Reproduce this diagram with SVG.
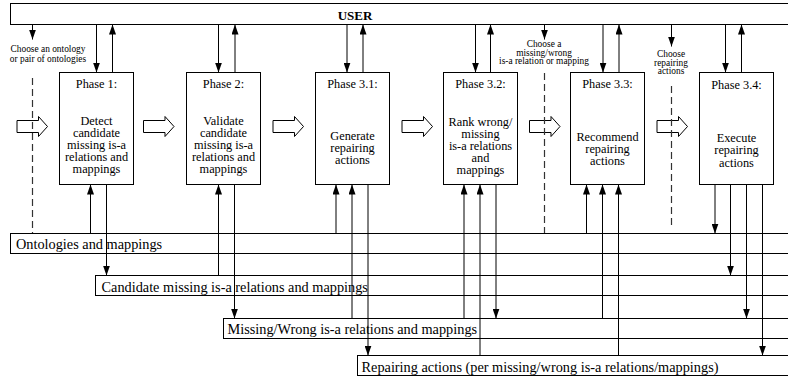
<svg xmlns="http://www.w3.org/2000/svg" width="788" height="381" viewBox="0 0 788 381">
<style>
  .ln{stroke:#000;stroke-width:1;fill:none}
  .box{stroke:#000;stroke-width:1;fill:#fff}
  .bar{stroke:#000;stroke-width:1;fill:none}
  .dash{stroke:#333;stroke-width:1.2;fill:none;stroke-dasharray:7,4}
  .blk{stroke:#000;stroke-width:1;fill:#fff}
  text{font-family:"Liberation Serif","Times New Roman",serif;fill:#000}
  .t{font-size:12.3px;text-anchor:middle}
  .bt{font-size:14.3px}
  .sm{font-size:9.4px;text-anchor:middle}
  .user{font-size:13px;font-weight:bold;text-anchor:middle}
</style>
<defs>
  <marker id="ah" markerUnits="userSpaceOnUse" markerWidth="10" markerHeight="7" refX="10" refY="3.5" orient="auto">
    <path d="M0,0 L10,3.5 L0,7 Z" fill="#000"/>
  </marker>
  <path id="blk" d="M0.5,4 H22 V0 L31,10 L22,20 V16 H0.5 Z"/>
</defs>

<g id="user">
  <rect class="bar" x="10.5" y="3.5" width="800" height="21"/>
  <text class="user" x="355" y="20">USER</text>
</g>

<g id="bars">
  <g id="bar-ontologies">
    <rect class="bar" x="10.5" y="233.5" width="800" height="20"/>
    <text class="bt" x="16" y="249">Ontologies and mappings</text>
  </g>
  <g id="bar-candidate">
    <rect class="bar" x="95.5" y="275.5" width="800" height="20"/>
    <text class="bt" x="101.5" y="291.5">Candidate missing is-a relations and mappings</text>
  </g>
  <g id="bar-missing">
    <rect class="bar" x="223.5" y="318.5" width="800" height="20"/>
    <text class="bt" x="227.5" y="334">Missing/Wrong is-a relations and mappings</text>
  </g>
  <g id="bar-repairing">
    <rect class="bar" x="357.5" y="355.5" width="800" height="20"/>
    <text class="bt" x="361.5" y="371.5">Repairing actions (per missing/wrong is-a relations/mappings)</text>
  </g>
</g>

<g id="labels">
  <text class="sm" x="48" y="52">Choose an ontology</text>
  <text class="sm" x="48" y="62">or pair of ontologies</text>
  <text class="sm" x="544" y="47">Choose a</text>
  <text class="sm" x="544" y="55.5">missing/wrong</text>
  <text class="sm" x="544" y="64">is-a relation or mapping</text>
  <text class="sm" x="671" y="57">Choose</text>
  <text class="sm" x="671" y="65.5">repairing</text>
  <text class="sm" x="671" y="74">actions</text>
</g>

<g id="phase1">
  <rect class="box" x="59.5" y="72.5" width="74" height="112"/>
  <text class="t" x="96.5" y="88">Phase 1:</text>
  <text class="t" x="96.5" y="125">Detect</text>
  <text class="t" x="96.5" y="137">candidate</text>
  <text class="t" x="96.5" y="149.2">missing is-a</text>
  <text class="t" x="96.5" y="161.3">relations and</text>
  <text class="t" x="96.5" y="173.4">mappings</text>
</g>
<g id="phase2">
  <rect class="box" x="186.5" y="72.5" width="74" height="112"/>
  <text class="t" x="223.5" y="88">Phase 2:</text>
  <text class="t" x="223.5" y="125">Validate</text>
  <text class="t" x="223.5" y="137">candidate</text>
  <text class="t" x="223.5" y="149.2">missing is-a</text>
  <text class="t" x="223.5" y="161.3">relations and</text>
  <text class="t" x="223.5" y="173.4">mappings</text>
</g>
<g id="phase31">
  <rect class="box" x="315.5" y="72.5" width="74" height="112"/>
  <text class="t" x="352.5" y="88">Phase 3.1:</text>
  <text class="t" x="352.5" y="139.5">Generate</text>
  <text class="t" x="352.5" y="151.7">repairing</text>
  <text class="t" x="352.5" y="164">actions</text>
</g>
<g id="phase32">
  <rect class="box" x="443.5" y="72.5" width="74" height="112"/>
  <text class="t" x="480.5" y="88">Phase 3.2:</text>
  <text class="t" x="480.5" y="125.5">Rank wrong/</text>
  <text class="t" x="480.5" y="137.5">missing</text>
  <text class="t" x="480.5" y="149.6">is-a relations</text>
  <text class="t" x="480.5" y="161.7">and</text>
  <text class="t" x="480.5" y="173.8">mappings</text>
</g>
<g id="phase33">
  <rect class="box" x="570.5" y="72.5" width="74" height="112"/>
  <text class="t" x="607.5" y="88">Phase 3.3:</text>
  <text class="t" x="607.5" y="141">Recommend</text>
  <text class="t" x="607.5" y="153">repairing</text>
  <text class="t" x="607.5" y="165.2">actions</text>
</g>
<g id="phase34">
  <rect class="box" x="699.5" y="72.5" width="74" height="112"/>
  <text class="t" x="736.5" y="88.5">Phase 3.4:</text>
  <text class="t" x="736.5" y="142.3">Execute</text>
  <text class="t" x="736.5" y="154.4">repairing</text>
  <text class="t" x="736.5" y="166.6">actions</text>
</g>

<g id="connectors">
  <!-- block arrows -->
  <use href="#blk" class="blk" x="16.5" y="116.5"/>
  <use href="#blk" class="blk" x="143" y="116.5"/>
  <use href="#blk" class="blk" x="272.5" y="116.5"/>
  <use href="#blk" class="blk" x="401.5" y="116.5"/>
  <use href="#blk" class="blk" x="529" y="116.5"/>
  <use href="#blk" class="blk" x="656.5" y="116.5"/>

  <!-- choose arrows and dashed lines -->
  <line class="ln" x1="32.5" y1="24.5" x2="32.5" y2="39.5" marker-end="url(#ah)"/>
  <line class="dash" x1="32.5" y1="78" x2="32.5" y2="233"/>
  <line class="ln" x1="544.5" y1="24.5" x2="544.5" y2="39.5" marker-end="url(#ah)"/>
  <line class="dash" x1="544.5" y1="73" x2="544.5" y2="233"/>
  <line class="ln" x1="671.5" y1="24.5" x2="671.5" y2="46.5" marker-end="url(#ah)"/>
  <line class="dash" x1="671.5" y1="86" x2="671.5" y2="228"/>

  <!-- USER <-> phases -->
  <line class="ln" x1="96.5" y1="24.5" x2="96.5" y2="72.5" marker-end="url(#ah)"/>
  <line class="ln" x1="112.5" y1="72.5" x2="112.5" y2="24.5" marker-end="url(#ah)"/>
  <line class="ln" x1="218.5" y1="24.5" x2="218.5" y2="72.5" marker-end="url(#ah)"/>
  <line class="ln" x1="235" y1="72.5" x2="235" y2="24.5" marker-end="url(#ah)"/>
  <line class="ln" x1="347" y1="24.5" x2="347" y2="72.5" marker-end="url(#ah)"/>
  <line class="ln" x1="363" y1="72.5" x2="363" y2="24.5" marker-end="url(#ah)"/>
  <line class="ln" x1="475.5" y1="24.5" x2="475.5" y2="72.5" marker-end="url(#ah)"/>
  <line class="ln" x1="490.5" y1="72.5" x2="490.5" y2="24.5" marker-end="url(#ah)"/>
  <line class="ln" x1="603" y1="24.5" x2="603" y2="72.5" marker-end="url(#ah)"/>
  <line class="ln" x1="619" y1="72.5" x2="619" y2="24.5" marker-end="url(#ah)"/>
  <line class="ln" x1="725.5" y1="24.5" x2="725.5" y2="72.5" marker-end="url(#ah)"/>
  <line class="ln" x1="741.5" y1="72.5" x2="741.5" y2="24.5" marker-end="url(#ah)"/>

  <!-- phase 1 -->
  <line class="ln" x1="90.5" y1="233.5" x2="90.5" y2="184.5" marker-end="url(#ah)"/>
  <line class="ln" x1="106.5" y1="184.5" x2="106.5" y2="275.5" marker-end="url(#ah)"/>
  <!-- phase 2 -->
  <line class="ln" x1="218.5" y1="275.5" x2="218.5" y2="184.5" marker-end="url(#ah)"/>
  <line class="ln" x1="234.5" y1="184.5" x2="234.5" y2="318.5" marker-end="url(#ah)"/>
  <!-- phase 3.1 -->
  <line class="ln" x1="336" y1="233.5" x2="336" y2="184.5" marker-end="url(#ah)"/>
  <line class="ln" x1="352" y1="318.5" x2="352" y2="184.5" marker-end="url(#ah)"/>
  <line class="ln" x1="368" y1="184.5" x2="368" y2="355.5" marker-end="url(#ah)"/>
  <!-- phase 3.2 -->
  <line class="ln" x1="464" y1="318.5" x2="464" y2="184.5" marker-end="url(#ah)"/>
  <line class="ln" x1="480" y1="355.5" x2="480" y2="184.5" marker-end="url(#ah)"/>
  <line class="ln" x1="496" y1="184.5" x2="496" y2="318.5" marker-end="url(#ah)"/>
  <!-- phase 3.3 -->
  <line class="ln" x1="586.5" y1="233.5" x2="586.5" y2="184.5" marker-end="url(#ah)"/>
  <line class="ln" x1="602.5" y1="318.5" x2="602.5" y2="184.5" marker-end="url(#ah)"/>
  <line class="ln" x1="618.5" y1="355.5" x2="618.5" y2="184.5" marker-end="url(#ah)"/>
  <!-- phase 3.4 -->
  <line class="ln" x1="715" y1="184.5" x2="715" y2="233.5" marker-end="url(#ah)"/>
  <line class="ln" x1="730.5" y1="184.5" x2="730.5" y2="275.5" marker-end="url(#ah)"/>
  <line class="ln" x1="746.5" y1="184.5" x2="746.5" y2="318.5" marker-end="url(#ah)"/>
  <line class="ln" x1="762.5" y1="184.5" x2="762.5" y2="355.5" marker-end="url(#ah)"/>
</g>
</svg>
